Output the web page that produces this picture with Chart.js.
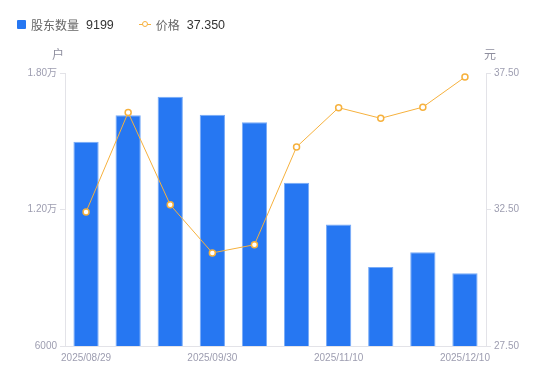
<!DOCTYPE html>
<html>
<head>
<meta charset="utf-8">
<script src="https://cdn.jsdelivr.net/npm/chart.js@4"></script>
<style>
html,body{margin:0;padding:0;background:#fff;}
#wrap{position:relative;width:550px;height:381px;font-family:"Liberation Sans","Noto Sans CJK SC",sans-serif;}
#legend{position:absolute;left:17px;top:16px;font-size:12px;display:flex;align-items:center;white-space:nowrap;}
.sq{display:inline-block;width:9px;height:9px;background:#2677F2;border-radius:1px;margin-right:5px;}
.ln{display:inline-block;position:relative;width:12px;height:9px;margin-right:5px;}
.ln:before{content:"";position:absolute;left:0;right:0;top:4px;height:1px;background:#F6B13D;}
.ln:after{content:"";position:absolute;left:3px;top:1px;width:4px;height:4px;border:1.5px solid #F6B13D;border-radius:50%;background:#fff;}
.nm{color:#666;margin-right:7px;}
.vl{color:#333;font-size:12.5px;}
</style>
</head>
<body>
<div id="wrap">
<div id="legend"><span class="sq"></span><span class="nm">股东数量</span><span class="vl">9199</span><span style="width:25px;display:inline-block"></span><span class="ln"></span><span class="nm">价格</span><span class="vl">37.350</span></div>
<canvas id="c" width="550" height="381"></canvas>
</div>
<script>
const categories = ["2025/08/29","2025/09/10","2025/09/19","2025/09/30","2025/10/20","2025/10/31","2025/11/10","2025/11/20","2025/11/28","2025/12/10"];
const holders = [14980, 16140, 16960, 16160, 15830, 13180, 11340, 9470, 10120, 9199];
const prices = [32.41, 36.05, 32.67, 30.91, 31.21, 34.79, 36.23, 35.84, 36.25, 37.35];
const leftTicks = [6000, 12000, 18000];
const rightTicks = [27.5, 32.5, 37.5];
const leftUnit = "户";
const rightUnit = "元";

const FONT = '"Liberation Sans","Noto Sans CJK SC",sans-serif';
const tickColor = '#9d9db0';
const axisColor = '#e3e3e8';

const unitPlugin = {
  id: 'units',
  afterDraw(chart) {
    const ctx = chart.ctx;
    const a = chart.chartArea;
    ctx.save();
    ctx.font = '12px ' + FONT;
    ctx.fillStyle = '#8e8e9e';
    ctx.textBaseline = 'middle';
    ctx.textAlign = 'center';
    ctx.fillText(leftUnit, a.left - 7, 56);
    ctx.fillText(rightUnit, a.right + 4, 56);
    ctx.restore();
  }
};

function fmtLeft(v) {
  if (v >= 10000) return (v / 10000).toFixed(2) + '万';
  return String(v);
}

new Chart(document.getElementById('c'), {
  data: {
    labels: categories,
    datasets: [
      {
        type: 'line',
        label: '价格',
        data: prices,
        yAxisID: 'y1',
        borderColor: '#F6B13D',
        borderWidth: 1,
        pointRadius: 3,
        pointBorderWidth: 1.5,
        pointBackgroundColor: '#fff',
        pointBorderColor: '#F6B13D',
        tension: 0,
        order: 0
      },
      {
        type: 'bar',
        label: '股东数量',
        data: holders,
        yAxisID: 'y',
        backgroundColor: '#2677F2',
        borderColor: '#78abf7',
        borderWidth: {left: 1, right: 1, top: 1, bottom: 0},
        categoryPercentage: 0.6,
        barPercentage: 1,
        order: 1
      }
    ]
  },
  options: {
    responsive: false,
    animation: false,
    layout: {padding: {top: 73, left: 0, right: 2, bottom: 0}},
    plugins: {legend: {display: false}, tooltip: {enabled: false}},
    scales: {
      x: {
        grid: {display: false, drawTicks: false},
        border: {display: true, color: axisColor},
        ticks: {
          autoSkip: false,
          maxRotation: 0,
          padding: 6,
          color: tickColor,
          font: {family: FONT, size: 10},
          callback: function(v, i) { return i % 3 === 0 ? categories[i] : ''; }
        },
        afterFit(s) { s.height = 35; }
      },
      y: {
        position: 'left',
        min: leftTicks[0],
        max: leftTicks[leftTicks.length - 1],
        afterBuildTicks(s) { s.ticks = leftTicks.map(v => ({value: v})); },
        grid: {drawOnChartArea: false, tickLength: 5, color: axisColor},
        border: {display: true, color: axisColor},
        ticks: {
          padding: 3,
          color: tickColor,
          font: {family: FONT, size: 10},
          callback: v => fmtLeft(v)
        },
        afterFit(s) { s.width = 65; }
      },
      y1: {
        position: 'right',
        min: rightTicks[0],
        max: rightTicks[rightTicks.length - 1],
        afterBuildTicks(s) { s.ticks = rightTicks.map(v => ({value: v})); },
        grid: {drawOnChartArea: false, tickLength: 5, color: axisColor},
        border: {display: true, color: axisColor},
        ticks: {
          padding: 3,
          color: tickColor,
          font: {family: FONT, size: 10},
          callback: v => Number(v).toFixed(2)
        },
        afterFit(s) { s.width = 62; }
      }
    }
  },
  plugins: [unitPlugin]
});
</script>
</body>
</html>
